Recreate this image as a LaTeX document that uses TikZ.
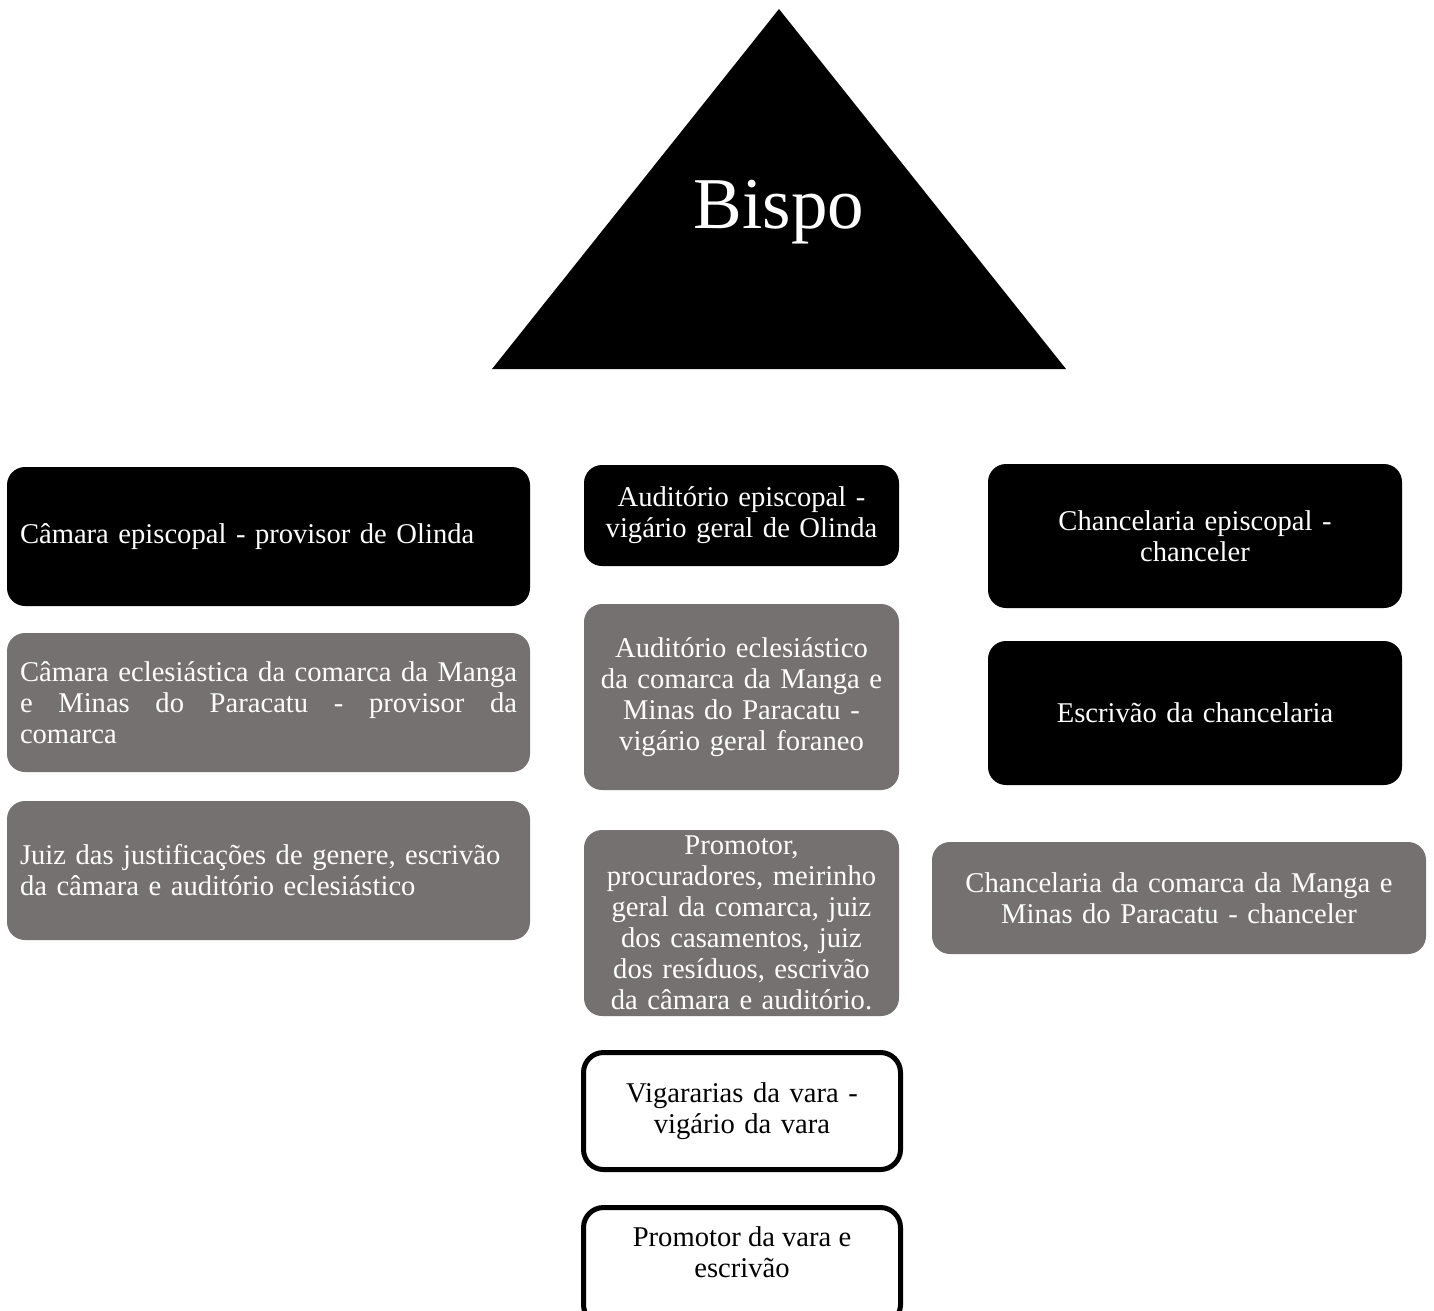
\documentclass[tikz,border=0pt]{standalone}
\usepackage{fontspec}
\setmainfont{Liberation Serif}
\definecolor{boxgray}{HTML}{767171}
\begin{document}
\begin{tikzpicture}[x=1pt,y=-1pt,
  base/.style={rounded corners=18pt, inner xsep=13pt, inner ysep=0pt,
    font=\fontsize{28.6}{31}\selectfont},
  blackbox/.style={base, fill=black, text=white},
  graybox/.style={base, fill=boxgray, text=white},
  whitebox/.style={base, draw=black, line width=5pt, fill=white, text=black, rounded corners=20pt}
]
\useasboundingbox (0,0) rectangle (1434,1310);
\clip (0,0) rectangle (1434,1310);
% triangle
\coordinate (apex) at (779,9);
\coordinate (bl) at (492,369);
\coordinate (br) at (1066,369);
\fill[black] (apex) -- (br) -- (bl) -- cycle;
\node[text=white, font=\fontsize{73}{80}\selectfont, inner sep=0pt] (bispo) at (779,212) {Bispo};
% left column
\node[blackbox, minimum width=523pt, minimum height=139pt, text width=497pt, align=left] (l1) at (268.5,536.5) {Câmara episcopal - provisor de Olinda};
\node[graybox, minimum width=523pt, minimum height=139pt, text width=497pt, align=justify] (l2) at (268.5,702.5) {Câmara eclesiástica da comarca da Manga\linebreak e Minas do Paracatu - provisor da\linebreak comarca};
\node[graybox, minimum width=523pt, minimum height=139pt, text width=497pt, align=left] (l3) at (268.5,870.5) {Juiz das justificações de genere, escrivão\\da câmara e auditório eclesiástico};
% middle column
\node[blackbox, minimum width=315pt, minimum height=101pt, text width=299pt, inner xsep=8pt, align=center] (m1) at (741.5,515.5) {Auditório episcopal -\\vigário geral de Olinda};
\node[graybox, minimum width=315pt, minimum height=186pt, text width=299pt, inner xsep=8pt, align=center] (m2) at (741.5,697) {Auditório eclesiástico\\da comarca da Manga e\\Minas do Paracatu -\\vigário geral foraneo};
\node[graybox, minimum width=315pt, minimum height=186pt, text width=299pt, inner xsep=8pt, align=center] (m3) at (741.5,923) {Promotor,\\procuradores, meirinho\\geral da comarca, juiz\\dos casamentos, juiz\\dos resíduos, escrivão\\da câmara e auditório.};
\node[whitebox, minimum width=317pt, minimum height=117pt, text width=295pt, inner xsep=10pt, align=center] (m4) at (742,1111) {Vigararias da vara -\\vigário da vara};
\node[whitebox, minimum width=317pt, minimum height=117pt, text width=295pt, inner xsep=10pt, align=center] (m5) at (742,1266) {};
\node[font=\fontsize{28.6}{31}\selectfont, align=center, inner sep=0pt] (m5t) at (742,1252) {Promotor da vara e\\escrivão};
% right column
\node[blackbox, minimum width=414pt, minimum height=144pt, text width=394pt, inner xsep=10pt, align=center] (r1) at (1195,536) {Chancelaria episcopal -\\chanceler};
\node[blackbox, minimum width=414pt, minimum height=144pt, text width=394pt, inner xsep=10pt, align=center] (r2) at (1195,713) {Escrivão da chancelaria};
\node[graybox, minimum width=494pt, minimum height=112pt, text width=474pt, inner xsep=10pt, align=center] (r3) at (1179,898) {Chancelaria da comarca da Manga e\\Minas do Paracatu - chanceler};
\end{tikzpicture}
\end{document}
